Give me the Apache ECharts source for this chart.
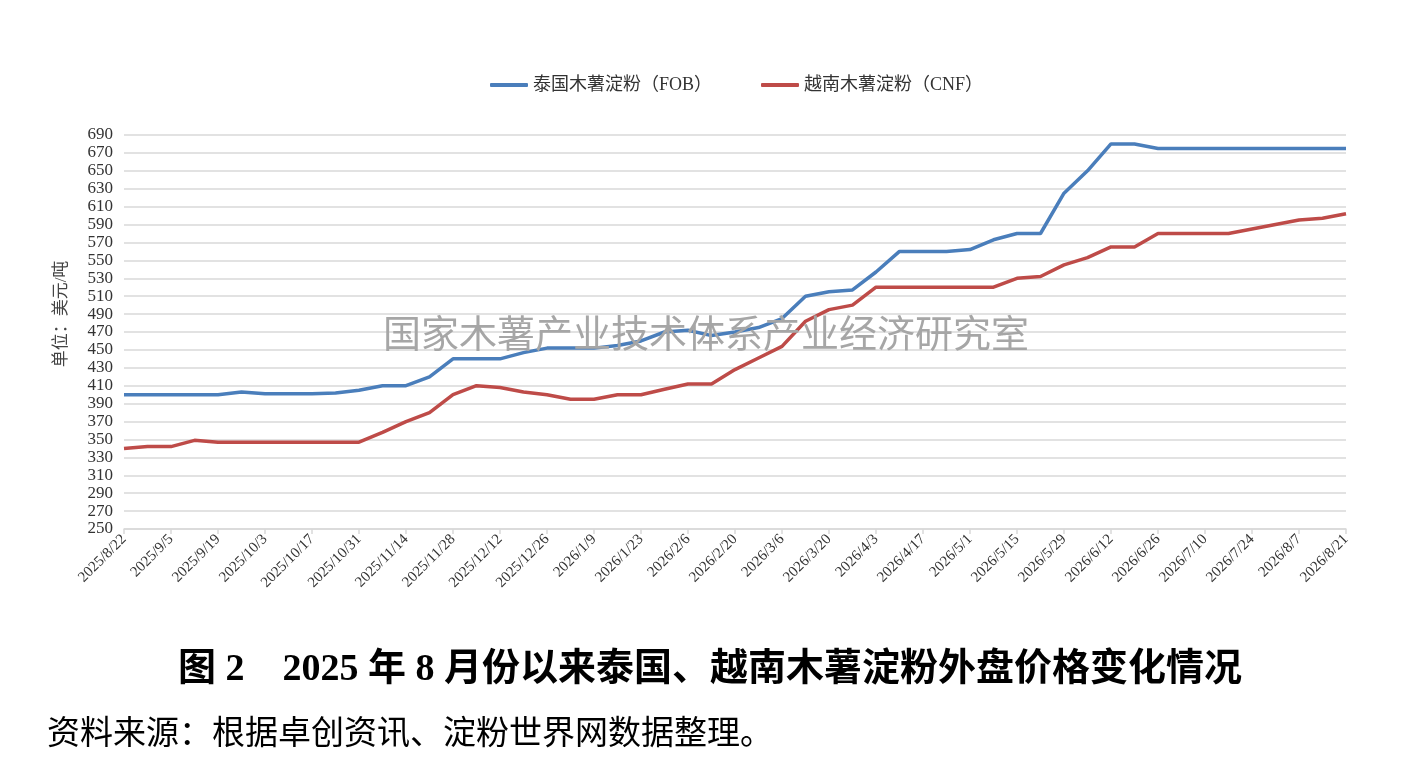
<!DOCTYPE html>
<html>
<head>
<meta charset="utf-8">
<title>泰国、越南木薯淀粉外盘价格</title>
<script src="https://cdn.jsdelivr.net/npm/echarts@6/dist/echarts.min.js"></script>
<style>
  html, body { margin: 0; padding: 0; background: #fff; }
  #chart { width: 1424px; height: 762px; }
</style>
</head>
<body>
<div id="chart"></div>
<script>
// 周度日期
var weeks = [
    '2025/8/22', '2025/8/29', '2025/9/5', '2025/9/12', '2025/9/19', '2025/9/26',
    '2025/10/3', '2025/10/10', '2025/10/17', '2025/10/24', '2025/10/31',
    '2025/11/7', '2025/11/14', '2025/11/21', '2025/11/28',
    '2025/12/5', '2025/12/12', '2025/12/19', '2025/12/26',
    '2026/1/2', '2026/1/9', '2026/1/16', '2026/1/23', '2026/1/30',
    '2026/2/6', '2026/2/13', '2026/2/20', '2026/2/27',
    '2026/3/6', '2026/3/13', '2026/3/20', '2026/3/27',
    '2026/4/3', '2026/4/10', '2026/4/17', '2026/4/24',
    '2026/5/1', '2026/5/8', '2026/5/15', '2026/5/22', '2026/5/29',
    '2026/6/5', '2026/6/12', '2026/6/19', '2026/6/26',
    '2026/7/3', '2026/7/10', '2026/7/17', '2026/7/24', '2026/7/31',
    '2026/8/7', '2026/8/14', '2026/8/21'
];

// 泰国木薯淀粉（FOB），美元/吨
var thaiFob = [
    400, 400, 400, 400, 400, 403, 401, 401, 401, 402, 405,
    410, 410, 420, 440, 440, 440, 447, 452, 452,
    452, 455, 460, 470, 472, 466, 470, 475, 485, 510, 515, 517,
    537, 560, 560, 560, 562, 573, 580, 580, 625,
    650, 680, 680, 675, 675, 675, 675, 675, 675, 675, 675, 675
];

// 越南木薯淀粉（CNF），美元/吨
var vietCnf = [
    340, 342, 342, 349, 347, 347, 347, 347, 347, 347, 347,
    358, 370, 380, 400, 410, 408, 403, 400, 395,
    395, 400, 400, 406, 412, 412, 428, 441, 454, 482, 495, 500,
    520, 520, 520, 520, 520, 520, 530, 532, 545,
    553, 565, 565, 580, 580, 580, 580, 585, 590, 595, 597, 602
];

// 纵轴刻度
var yTicks = [
    '250', '270', '290', '310', '330', '350', '370', '390', '410', '430', '450', '470',
    '490', '510', '530', '550', '570', '590', '610', '630', '650', '670', '690'
];

var serif = '"Liberation Serif", "Times New Roman", "Noto Sans CJK SC", serif';

var chart = echarts.init(document.getElementById('chart'));

var option = {
    backgroundColor: '#fff',
    animation: false,
    legend: {
        left: 485,
        top: 71,
        icon: 'roundRect',
        itemWidth: 38,
        itemHeight: 4,
        itemGap: 49,
        textStyle: {
            fontFamily: serif,
            fontSize: 18,
            color: '#333'
        },
        data: ['泰国木薯淀粉（FOB）', '越南木薯淀粉（CNF）']
    },
    grid: {
        left: 124,
        right: 78,
        top: 135,
        bottom: 233
    },
    xAxis: {
        type: 'category',
        boundaryGap: false,
        data: weeks,
        axisLine: {lineStyle: {color: '#d9d9d9', width: 1.5}},
        axisTick: {interval: 1, length: 5, lineStyle: {color: '#d9d9d9', width: 1.5}},
        axisLabel: {
            interval: 1,
            rotate: 45,
            margin: 8,
            fontFamily: serif,
            fontSize: 15,
            color: '#333'
        },
        splitLine: {show: false}
    },
    yAxis: [
        {
            type: 'value',
            min: 250,
            max: 690,
            show: false
        },
        {
            // 只负责刻度文字和网格线
            type: 'category',
            position: 'left',
            boundaryGap: false,
            data: yTicks,
            axisLine: {show: false},
            axisTick: {show: false},
            axisLabel: {
                interval: 0,
                margin: 11,
                fontFamily: serif,
                fontSize: 17,
                color: '#333'
            },
            splitLine: {
                show: true,
                interval: 0,
                lineStyle: {color: '#d9d9d9', width: 1.5}
            }
        }
    ],
    series: [
        {
            name: '泰国木薯淀粉（FOB）',
            type: 'line',
            yAxisIndex: 0,
            data: thaiFob,
            symbol: 'none',
            lineStyle: {color: '#4a7ebb', width: 3.5},
            itemStyle: {color: '#4a7ebb'}
        },
        {
            name: '越南木薯淀粉（CNF）',
            type: 'line',
            yAxisIndex: 0,
            data: vietCnf,
            symbol: 'none',
            lineStyle: {color: '#be4b48', width: 3.5},
            itemStyle: {color: '#be4b48'}
        }
    ],
    graphic: [
        {
            type: 'text',
            rotation: Math.PI / 2,
            x: 62,
            y: 314,
            style: {
                text: '单位：美元/吨',
                fontFamily: serif,
                fontSize: 17,
                fill: '#444',
                align: 'center',
                verticalAlign: 'middle'
            }
        },
        {
            // 水印
            type: 'text',
            z: 100,
            x: 706,
            y: 333,
            style: {
                text: '国家木薯产业技术体系产业经济研究室',
                fontFamily: '"Noto Sans CJK SC", sans-serif',
                fontSize: 38,
                fill: '#a6a6a6',
                align: 'center',
                verticalAlign: 'middle'
            }
        },
        {
            type: 'text',
            x: 710,
            y: 670,
            style: {
                text: '图 2　2025 年 8 月份以来泰国、越南木薯淀粉外盘价格变化情况',
                fontFamily: serif,
                fontWeight: 'bold',
                fontSize: 38,
                fill: '#000',
                align: 'center',
                verticalAlign: 'middle'
            }
        },
        {
            type: 'text',
            x: 47,
            y: 735,
            style: {
                text: '资料来源：根据卓创资讯、淀粉世界网数据整理。',
                fontFamily: serif,
                fontSize: 33,
                fill: '#000',
                align: 'left',
                verticalAlign: 'middle'
            }
        }
    ]
};

chart.setOption(option);
window.onresize = chart.resize;
</script>
</body>
</html>
